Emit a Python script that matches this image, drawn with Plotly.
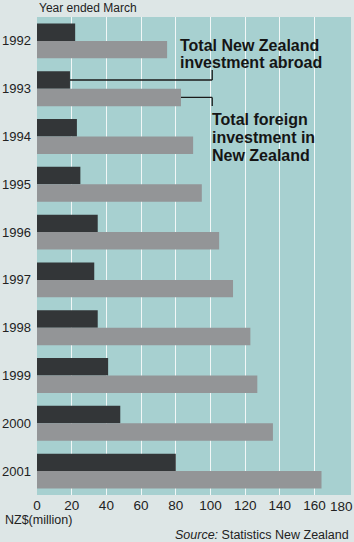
import plotly.graph_objects as go

years = ["1992", "1993", "1994", "1995", "1996", "1997", "1998", "1999", "2000", "2001"]
nz_abroad = [22, 19, 23, 25, 35, 33, 35, 41, 48, 80]
foreign_in_nz = [75, 83, 90, 95, 105, 113, 123, 127, 136, 164]
x_ticks = [0, 20, 40, 60, 80, 100, 120, 140, 160, 180]
label_abroad = ["Total New Zealand", "investment abroad"]
label_foreign = ["Total foreign", "investment in", "New Zealand"]

FONT = "Liberation Sans, Arial, sans-serif"
BARGAP = 0.27
L, T, B, W = 36.5, 17, 495, 314.5
H = B - T


def px_x(p):
    return (p - L) / W


def px_y(p):
    return (B - p) / H


fig = go.Figure()
fig.add_trace(go.Bar(y=years, x=nz_abroad, orientation="h", marker_color="#333638",
                     marker_line_width=0, name="Total New Zealand investment abroad"))
fig.add_trace(go.Bar(y=years, x=foreign_in_nz, orientation="h", marker_color="#939597",
                     marker_line_width=0, name="Total foreign investment in New Zealand"))

# connector lines (1993 bars -> labels)
i = 1
half = (1 - BARGAP) / 4
elbow_x = 101
line_style = dict(color="#1a1a1a", width=1.3)
fig.add_shape(type="line", xref="x", yref="y", x0=nz_abroad[i], x1=elbow_x,
              y0=i - half, y1=i - half, line=line_style)
fig.add_shape(type="line", xref="x", yref="y", x0=elbow_x, x1=elbow_x,
              y0=i - half, y1=i - 0.39, line=line_style)
fig.add_shape(type="line", xref="x", yref="y", x0=foreign_in_nz[i], x1=elbow_x,
              y0=i + half, y1=i + half, line=line_style)
fig.add_shape(type="line", xref="x", yref="y", x0=elbow_x, x1=elbow_x,
              y0=i + half, y1=i + 0.36, line=line_style)

for k, line in enumerate(label_abroad):
    fig.add_annotation(xref="paper", yref="paper", x=px_x(178), y=px_y(45 + 18 * k),
                       text="<b>" + line + "</b>", showarrow=False,
                       xanchor="left", yanchor="middle", align="left",
                       font=dict(family=FONT, size=16, color="#151515"))
for k, line in enumerate(label_foreign):
    fig.add_annotation(xref="paper", yref="paper", x=px_x(210), y=px_y(119.5 + 18 * k),
                       text="<b>" + line + "</b>", showarrow=False,
                       xanchor="left", yanchor="middle", align="left",
                       font=dict(family=FONT, size=16, color="#151515"))

fig.add_annotation(xref="paper", yref="paper", x=0, y=px_y(8),
                   text="Year ended March", showarrow=False, xanchor="left", yanchor="middle",
                   font=dict(family=FONT, size=12, color="#222"))
fig.add_annotation(xref="paper", yref="paper", x=px_x(2), y=px_y(520),
                   text="NZ$(million)", showarrow=False, xanchor="left", yanchor="middle",
                   font=dict(family=FONT, size=12.5, color="#222"))
fig.add_annotation(xref="paper", yref="paper", x=1, y=px_y(535),
                   text="<i>Source:</i> Statistics New Zealand", showarrow=False,
                   xanchor="right", yanchor="middle",
                   font=dict(family=FONT, size=12.5, color="#222"))
# last tick label, squeezed in against the right edge as in the original
fig.add_annotation(xref="x", yref="paper", x=x_ticks[-1], y=px_y(506), xshift=-8,
                   text=str(x_ticks[-1]), showarrow=False, xanchor="center", yanchor="middle",
                   font=dict(family=FONT, size=13.5, color="#222"))

fig.update_layout(
    width=354, height=542,
    margin=dict(l=L, r=354 - L - W, t=T, b=542 - B),
    paper_bgcolor="#dde6e6",
    plot_bgcolor="#a7d0d0",
    barmode="group", bargap=BARGAP, bargroupgap=0,
    showlegend=False,
    font=dict(family=FONT, size=13, color="#222"),
)
fig.update_xaxes(range=[0, 181], tickvals=x_ticks[:-1], showgrid=True, gridcolor="#f2f7f7",
                 gridwidth=1, zeroline=False, showline=False, ticks="",
                 tickfont=dict(size=13.5))
fig.update_yaxes(type="category", categoryorder="array", categoryarray=years,
                 autorange="reversed", showgrid=False, zeroline=False, ticks="",
                 ticklabelstandoff=5, tickfont=dict(size=13))

fig.write_html("out.html")
